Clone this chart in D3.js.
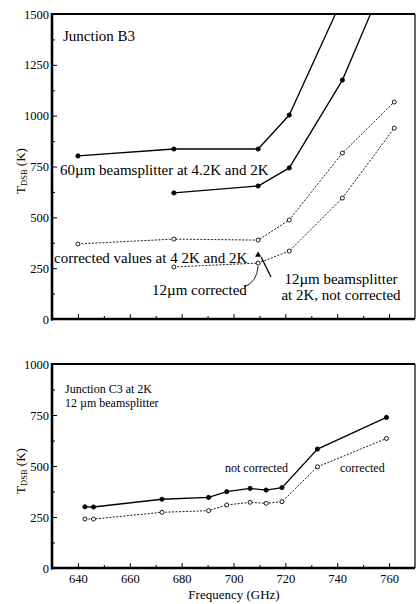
<!DOCTYPE html>
<html>
<head>
<meta charset="utf-8">
<script src="https://cdn.jsdelivr.net/npm/d3@7"></script>
<style>
  body { margin: 0; background: #fff; }
  svg { display: block; }
</style>
</head>
<body>
<svg width="417" height="604"></svg>
<script>
// top panel: junction B3
var topFreq = [640, 677, 709.5, 721.5, 742, 762];
var b3At42K = [802, 836, 836, 1003, 1575, null];
var b3At2K = [null, 620, 654, 743, 1175, 1775];
var b3Corr42K = [369, 393, 388, 487, 816, 1067];
var b3Corr2K = [null, 256, 275, 334, 595, 939];
var b3Single = [{ f: 709.5, t: 315 }];

// bottom panel: junction C3
var botFreq = [642.7, 646, 672.4, 690.4, 697.4, 706.4, 712.6, 718.7, 732.4, 759];
var c3NotCorr = [300, 299, 337, 346, 374, 390, 382, 394, 583, 738];
var c3Corr = [240, 240, 273, 281, 309, 322, 317, 325, 496, 635];

var freqTicks = [640, 660, 680, 700, 720, 740, 760];
var topYTicks = [0, 250, 500, 750, 1000, 1250, 1500];
var botYTicks = [0, 250, 500, 750, 1000];

var FONT = "'Liberation Serif', 'Times New Roman', serif";
var svg = d3.select("svg");
var left = 52, right = 415;

var x = d3.scaleLinear().domain([630, 770]).range([left, right]);
var yTop = d3.scaleLinear().domain([0, 1500]).range([319, 14]);
var yBot = d3.scaleLinear().domain([0, 1000]).range([568, 364]);

function pts(freq, vals) {
    return freq.map(function (f, i) { return { f: f, t: vals[i] }; })
        .filter(function (d) { return d.t != null; });
}

function frame(y, ymax, yticks, minor, showX) {
    var g = svg.append("g");
    // minor ticks
    g.append("g").attr("transform", "translate(" + left + ",0)")
        .call(d3.axisLeft(y).tickValues(minor).tickSize(-3).tickFormat(""));
    g.append("g").attr("transform", "translate(" + left + ",0)")
        .call(d3.axisLeft(y).tickValues(yticks).tickSize(-5).tickPadding(3).tickFormat(d3.format("d")));
    var y0 = y(0);
    g.append("g").attr("transform", "translate(0," + y0 + ")")
        .call(d3.axisBottom(x).tickValues(d3.range(650, 770, 20)).tickSize(-3).tickFormat(""));
    g.append("g").attr("transform", "translate(0," + y0 + ")")
        .call(d3.axisBottom(x).tickValues(freqTicks).tickSize(-5).tickPadding(6)
            .tickFormat(showX ? d3.format("d") : ""));
    g.selectAll(".domain").remove();
    g.selectAll("g").attr("font-family", FONT).attr("font-size", 12.5);
    g.selectAll(".tick text").attr("fill", "#000");
    g.selectAll(".tick line").attr("stroke", "#000").attr("stroke-width", 1);
    // borders
    g.append("line").attr("x1", left).attr("x2", right).attr("y1", y(ymax)).attr("y2", y(ymax))
        .attr("stroke", "#000").attr("stroke-width", 2);
    g.append("line").attr("x1", right).attr("x2", right).attr("y1", y(ymax)).attr("y2", y0)
        .attr("stroke", "#000").attr("stroke-width", 1.2);
    g.append("line").attr("x1", left).attr("x2", left).attr("y1", y(ymax) - 1).attr("y2", y0 + 1.5)
        .attr("stroke", "#000").attr("stroke-width", 2.6);
    g.append("line").attr("x1", left - 1).attr("x2", right).attr("y1", y0).attr("y2", y0)
        .attr("stroke", "#000").attr("stroke-width", 2.6);
}

function series(g, y, data, dashed, filled) {
    var line = d3.line().x(function (d) { return x(d.f); }).y(function (d) { return y(d.t); });
    g.append("path").datum(data).attr("d", line).attr("fill", "none")
        .attr("stroke", "#000").attr("stroke-width", dashed ? 0.9 : 1.3)
        .attr("stroke-dasharray", dashed ? "2,1.5" : null);
    g.selectAll(null).data(data).enter().append("circle")
        .attr("cx", function (d) { return x(d.f); })
        .attr("cy", function (d) { return y(d.t); })
        .attr("r", filled ? 2.1 : 2)
        .attr("fill", filled ? "#000" : "#fff")
        .attr("stroke", "#000").attr("stroke-width", 0.9);
}

svg.append("clipPath").attr("id", "clipTop").append("rect")
    .attr("x", left).attr("y", 14).attr("width", right - left).attr("height", 305);

// top panel
var gt = svg.append("g").attr("clip-path", "url(#clipTop)");
series(gt, yTop, pts(topFreq, b3At42K), false, true);
series(gt, yTop, pts(topFreq, b3At2K), false, true);
series(gt, yTop, pts(topFreq, b3Corr42K), true, false);
series(gt, yTop, pts(topFreq, b3Corr2K), true, false);
gt.selectAll(null).data(b3Single).enter().append("path")
    .attr("transform", function (d) { return "translate(" + x(d.f) + "," + yTop(d.t) + ")"; })
    .attr("d", d3.symbol(d3.symbolTriangle, 16))
    .attr("fill", "#000");

frame(yTop, 1500, topYTicks, d3.range(125, 1500, 250), false);

// bottom panel
var gb = svg.append("g");
series(gb, yBot, pts(botFreq, c3NotCorr), false, true);
series(gb, yBot, pts(botFreq, c3Corr), true, false);
frame(yBot, 1000, botYTicks, d3.range(125, 1000, 250), true);

// annotations
function txt(xp, yp, s, size, anchor) {
    return svg.append("text").attr("x", xp).attr("y", yp).attr("font-size", size)
        .attr("font-family", FONT).attr("fill", "#000")
        .attr("text-anchor", anchor || "start").text(s);
}
txt(63, 41, "Junction B3", 15);
txt(60, 175, "60\u00b5m beamsplitter at 4.2K and 2K", 15);
txt(54, 263, "corrected values at 4 2K and 2K", 15);
txt(152, 295, "12\u00b5m corrected", 15);
txt(341, 284, "12\u00b5m beamsplitter", 15, "middle");
txt(341, 300, "at 2K, not corrected", 15, "middle");

var s1 = b3Single[0];
svg.append("line").attr("x1", x(s1.f) + 3).attr("y1", yTop(s1.t) + 2)
    .attr("x2", 271).attr("y2", 277).attr("stroke", "#000").attr("stroke-width", 1.3);
var s2 = { f: topFreq[2], t: b3Corr2K[2] };
svg.append("path")
    .attr("d", "M244," + 287 + " Q" + (x(s2.f) - 1) + "," + 282 + " " + x(s2.f) + "," + (yTop(s2.t) + 3))
    .attr("fill", "none").attr("stroke", "#000").attr("stroke-width", 0.9);

txt(65, 393, "Junction C3 at 2K", 12);
txt(65, 407, "12 \u00b5m beamsplitter", 12);
txt(225, 472, "not corrected", 12);
txt(340, 472, "corrected", 12);
txt(234, 599, "Frequency (GHz)", 13, "middle");

// y axis titles
function yTitle(cy) {
    var t = svg.append("text").attr("transform", "translate(25," + cy + ") rotate(-90)")
        .attr("text-anchor", "middle").attr("font-size", 13)
        .attr("font-family", FONT).attr("fill", "#000");
    t.append("tspan").text("T");
    t.append("tspan").attr("font-size", 8.5).attr("dy", 2).text("DSB");
    t.append("tspan").attr("dy", -2).text(" (K)");
}
yTitle(171);
yTitle(471);
</script>
</body>
</html>
